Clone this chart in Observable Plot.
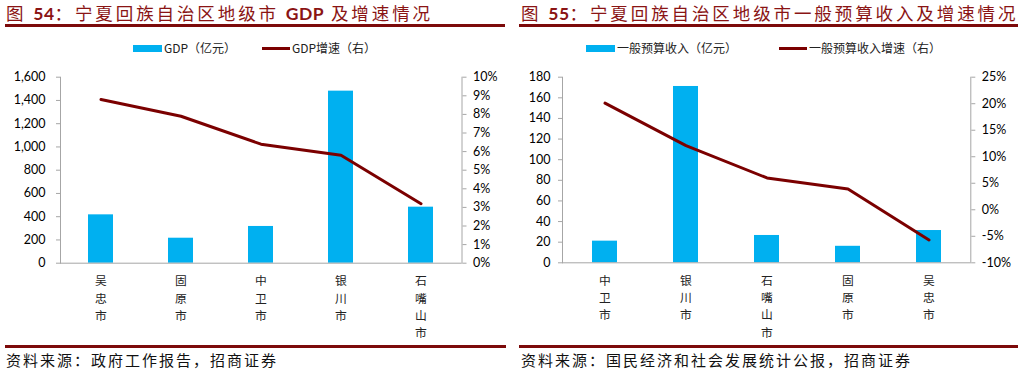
<!DOCTYPE html>
<html><head><meta charset="utf-8">
<script src="https://cdn.jsdelivr.net/npm/d3@7"></script>
<script src="https://cdn.jsdelivr.net/npm/@observablehq/plot@0.6"></script>
<style>
body{margin:0;background:#fff;font-family:"Noto Sans CJK SC",sans-serif;}
#wrap{position:relative;width:1023px;height:371px;overflow:hidden;background:#fff;}
.title{position:absolute;top:0;line-height:25.5px;font-size:17.5px;color:#8a1414;letter-spacing:2.9px;white-space:nowrap;}
.title b{font-family:Lato,"Liberation Sans",sans-serif;font-weight:700;letter-spacing:0.5px;}
.rule{position:absolute;background:#7c0a0a;}
.leg{position:absolute;top:39px;height:18px;line-height:18px;font-size:12px;color:#222;white-space:nowrap;}
.sw{position:absolute;}
.src{position:absolute;top:349px;line-height:22px;font-size:15px;color:#111;letter-spacing:2px;white-space:nowrap;}
.chart{position:absolute;top:60px;}
</style></head>
<body><div id="wrap">
<div class="title" style="left:6px">图 <b>54</b>：宁夏回族自治区地级市 <b>GDP</b> 及增速情况</div>
<div class="title" style="left:521px">图 <b>55</b>：宁夏回族自治区地级市一般预算收入及增速情况</div>
<div class="rule" style="left:5px;width:500px;top:23.5px;height:3px"></div>
<div class="rule" style="left:519px;width:499px;top:23.5px;height:3px"></div>

<div class="sw" style="left:133px;top:44.5px;width:29px;height:7px;background:#00B0F0"></div>
<div class="leg" style="left:164px">GDP（亿元）</div>
<div class="sw" style="left:262px;top:46.5px;width:28px;height:3px;background:#7B0000"></div>
<div class="leg" style="left:292px">GDP增速（右）</div>

<div class="sw" style="left:586px;top:44.5px;width:29px;height:7px;background:#00B0F0"></div>
<div class="leg" style="left:617px">一般预算收入（亿元）</div>
<div class="sw" style="left:779px;top:46.5px;width:28px;height:3px;background:#7B0000"></div>
<div class="leg" style="left:809px">一般预算收入增速（右）</div>

<div class="chart" id="c1" style="left:0"></div>
<div class="chart" id="c2" style="left:512px"></div>

<div class="rule" style="left:5px;width:501px;top:344.5px;height:3px"></div>
<div class="rule" style="left:519px;width:499px;top:344.5px;height:3px"></div>
<div class="src" style="left:6px">资料来源：政府工作报告，招商证券</div>
<div class="src" style="left:521px">资料来源：国民经济和社会发展统计公报，招商证券</div>
</div>
<script>
// Chart 54: GDP
const gdpCities = ["吴忠市", "固原市", "中卫市", "银川市", "石嘴山市"];
const gdpValues = [416, 215, 316, 1480, 482];          // 亿元
const gdpGrowth = [8.8, 7.9, 6.4, 5.8, 3.2];            // %
const gdpLeftTicks = [0, 200, 400, 600, 800, 1000, 1200, 1400, 1600];
const gdpRightTicks = [0, 1, 2, 3, 4, 5, 6, 7, 8, 9, 10];

// Chart 55: 一般预算收入
const revCities = ["中卫市", "银川市", "石嘴山市", "固原市", "吴忠市"];
const revValues = [21, 171, 26.5, 16, 31.3];            // 亿元
const revGrowth = [20.1, 12.1, 6.0, 3.9, -5.7];         // %
const revLeftTicks = [0, 20, 40, 60, 80, 100, 120, 140, 160, 180];
const revRightTicks = [-10, -5, 0, 5, 10, 15, 20, 25];

function makeChart(o) {
  const gMin = o.gTicks[0], gMax = o.gTicks[o.gTicks.length - 1];
  const yMax = o.leftTicks[o.leftTicks.length - 1];
  const toY = g => (g - gMin) / (gMax - gMin) * yMax;
  const fromY = y => Math.round(y / yMax * (gMax - gMin) + gMin);
  const rows = o.cities.map((c, i) => ({city: c, value: o.values[i], g: o.growth[i]}));
  const axisColor = "#a6a6a6";
  return Plot.plot({
    width: o.width, height: 285,
    marginTop: 16.7, marginBottom: 285 - 16.7 - o.plotH,
    marginLeft: o.marginLeft, marginRight: o.marginRight,
    style: {fontFamily: "Lato, 'Liberation Sans', sans-serif", fontSize: "12.5px", color: "#000", background: "transparent", overflow: "visible"},
    x: {domain: o.cities, paddingInner: 0.69, paddingOuter: 0.345, axis: null},
    y: {domain: [0, yMax], axis: null},
    marks: [
      Plot.barY(rows, {x: "city", y: "value", fill: "#00B0F0"}),
      Plot.ruleY([0], {stroke: axisColor}),
      Plot.frame({anchor: "left", stroke: axisColor}),
      Plot.frame({anchor: "right", stroke: axisColor}),
      Plot.axisY(o.leftTicks, {anchor: "left", tickSize: 4, tickPadding: o.leftPad, tickFormat: o.leftFmt, stroke: axisColor, label: null}),
      Plot.axisY(o.gTicks.map(toY), {anchor: "right", tickSize: 4, tickPadding: 7, tickFormat: y => fromY(y) + "%", stroke: axisColor, label: null}),
      Plot.axisX({tickSize: 0, tickPadding: 10, tickFormat: d => d.split("").join("\n"), lineHeight: 1.46, fontFamily: "'Noto Sans CJK SC', sans-serif", fontSize: 11.8, fill: "#222", label: null}),
      Plot.lineY(rows, {x: "city", y: d => toY(d.g), stroke: "#7B0000", strokeWidth: 3, curve: "linear"})
    ]
  });
}

document.getElementById("c1").append(makeChart({
  cities: gdpCities, values: gdpValues, growth: gdpGrowth,
  leftTicks: gdpLeftTicks, gTicks: gdpRightTicks, leftFmt: d3.format(","),
  width: 512, marginLeft: 60, marginRight: 50.5, plotH: 186, leftPad: 11
}));
document.getElementById("c2").append(makeChart({
  cities: revCities, values: revValues, growth: revGrowth,
  leftTicks: revLeftTicks, gTicks: revRightTicks, leftFmt: d3.format(","),
  width: 511, marginLeft: 50, marginRight: 52.7, plotH: 185.6, leftPad: 8
}));
</script>
</body></html>
